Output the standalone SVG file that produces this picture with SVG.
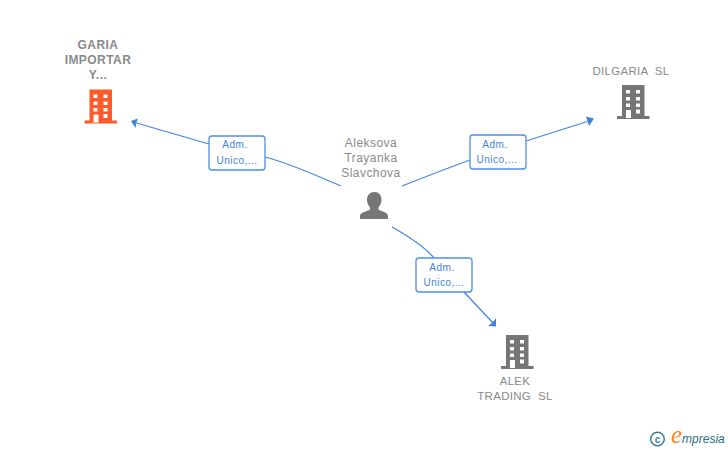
<svg xmlns="http://www.w3.org/2000/svg" width="728" height="450" viewBox="0 0 728 450">
<style>
text{font-family:"Liberation Sans",Arial,sans-serif;text-anchor:middle;white-space:pre}
.n{font-size:12px;fill:#8a8a8a;letter-spacing:.45px}
.s{font-size:11.500px;letter-spacing:.3px}
.b{font-weight:bold}
.l{font-size:10px;fill:#3f82e0;letter-spacing:.5px}
.c{fill:none;stroke:#4285e4;stroke-width:1.2}
.box{fill:#fff;stroke:#4f8fe8;stroke-width:1.3}
.a{fill:#3f82e0}
</style>
<defs>
<g id="bld">
<path fill-rule="evenodd" d="M5 0H27.500V31H32.500V34H0V31H5ZM9 5V8.500H13V5ZM19 5V8.500H23V5ZM9 12V15.500H13V12ZM19 12V15.500H23V12ZM9 18.500V22H13V18.500ZM19 18.500V22H23V18.500ZM9 25V33H14V25ZM19 24.500V28.500H23V24.500Z"/>
</g>
</defs>
<g id="connectors">
<path class="c" d="M133 122L209 144"/>
<path class="c" d="M265 157C292 164 317 176 341 186"/>
<path class="a" d="M131 121L138 118.500L136 123.500L135.500 128Z"/>
<path class="c" d="M402 186C425 177 448 168 470 160"/>
<path class="c" d="M526 141L592 120"/>
<path class="a" d="M594 118.500L589 126L587.500 121L586 116.500Z"/>
<path class="c" d="M392 227C408 236 424 246 434 258"/>
<path class="c" d="M464 292L494 324"/>
<path class="a" d="M496 326.500L488 326L492.500 322.500L496 318Z"/>
</g>
<g id="label-1"><rect class="box" x="209" y="136" width="56" height="34" rx="3"/><text class="l" x="235" y="148">Adm.</text><text class="l" x="237" y="164">Unico,...</text></g>
<g id="label-2"><rect class="box" x="470" y="135" width="56" height="34" rx="3"/><text class="l" x="495" y="148">Adm.</text><text class="l" x="497" y="163">Unico,...</text></g>
<g id="label-3"><rect class="box" x="416" y="258" width="56" height="34" rx="3"/><text class="l" x="442" y="271">Adm.</text><text class="l" x="444" y="286">Unico,...</text></g>
<g id="node-garia">
<text class="n b" x="98" y="49">GARIA</text><text class="n b" x="98" y="64">IMPORTAR</text><text class="n b" x="98" y="79">Y...</text>
<use href="#bld" x="84.500" y="89.500" fill="#ff5a2b"/>
</g>
<g id="node-dilgaria">
<text class="n s" x="631" y="75">DILGARIA  SL</text>
<use href="#bld" x="617" y="85" fill="#767676"/>
</g>
<g id="node-alek">
<use href="#bld" x="501" y="335" fill="#767676"/>
<text class="n s" x="515" y="385">ALEK</text><text class="n s" x="515" y="400">TRADING  SL</text>
</g>
<g id="node-person">
<text class="n" x="371" y="147">Aleksova</text><text class="n" x="371" y="162">Trayanka</text><text class="n" x="371" y="177">Slavchova</text>
<path fill="#767676" d="M374.500 192C379 192 381.500 195.500 381.500 199.500C381.500 203 380 206 378.500 207.500V209.500C381 211.500 388 212 388 216V219H360V216C360 212 367.500 211.500 370 209.500V207.500C368.500 206 367 203 367 199.500C367 195.500 370 192 374.500 192Z"/>
</g>
<g id="logo">
<circle cx="657.500" cy="439" r="6.800" fill="none" stroke="#3c7f93" stroke-width="1.500"/>
<text x="657.500" y="442.500" font-size="10" style="fill:#3c7f93;font-weight:bold">c</text>
<text x="671" y="443" style="text-anchor:start;fill:#1f6f85"><tspan font-size="25" font-style="italic" style="font-family:'Liberation Serif',serif;fill:#f08a1d">e</tspan><tspan font-size="12" font-style="italic">mpresia</tspan></text>
</g>
</svg>
